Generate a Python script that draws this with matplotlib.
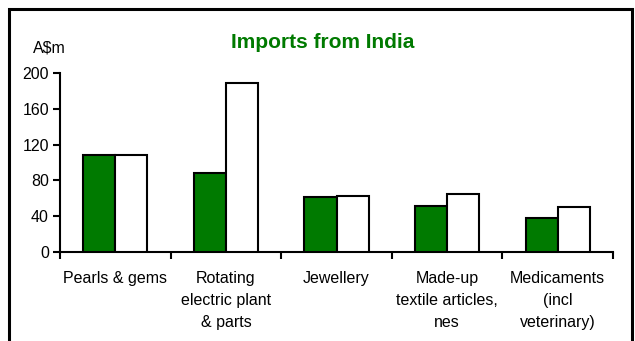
import matplotlib
matplotlib.use("Agg")
import matplotlib.pyplot as plt
from matplotlib.patches import Rectangle
import numpy as np

categories = ["Pearls & gems", "Rotating\nelectric plant\n& parts", "Jewellery",
              "Made-up\ntextile articles,\nnes", "Medicaments\n(incl\nveterinary)"]
series_green = [108, 88, 62, 51, 38]
series_white = [108, 189, 63, 65, 50]
yticks = [0, 40, 80, 120, 160, 200]

plt.rcParams['font.family'] = ['Liberation Sans', 'DejaVu Sans']
green = '#007A00'

fig = plt.figure(figsize=(6.35, 3.41), dpi=100)
ax = fig.add_axes([60/635, 1-252/341, (613-60)/635, (252-73)/341])

x = np.arange(len(categories))
w = 0.29
ax.bar(x - w/2, series_green, width=w, color=green, edgecolor='black', linewidth=1.5, zorder=3)
ax.bar(x + w/2, series_white, width=w, color='white', edgecolor='black', linewidth=1.5, zorder=3)

ax.set_xlim(-0.5, len(categories) - 0.5)
ax.set_ylim(0, 200)
ax.set_yticks(yticks)
ax.set_yticklabels([str(v) for v in yticks], fontsize=11.5)
ax.set_xticks(np.arange(len(categories) + 1) - 0.5)
ax.set_xticklabels([])
ax.set_xticks(x, minor=True)
ax.set_xticklabels(categories, minor=True, fontsize=11.5, linespacing=1.55)
ax.tick_params(axis='x', which='minor', length=0, pad=14)
ax.tick_params(axis='x', which='major', direction='out', length=5, width=1.5)
ax.tick_params(axis='y', direction='out', length=5, width=1.5, pad=3)

for s in ['top', 'right']:
    ax.spines[s].set_visible(False)
for s in ['left', 'bottom']:
    ax.spines[s].set_linewidth(1.5)

fig.text(323/635, 1-42/341, "Imports from India", color=green, fontsize=15,
         fontweight='bold', ha='center', va='center')
fig.text(33/635, 1-48/341, "A$m", fontsize=11.5, ha='left', va='center')

border = Rectangle((9/635, -0.1), (632-9)/635, 1.1 - 9/341, transform=fig.transFigure,
                   fill=False, edgecolor='black', linewidth=2.2, clip_on=False)
fig.patches.append(border)

fig.savefig("out.png", dpi=100)
